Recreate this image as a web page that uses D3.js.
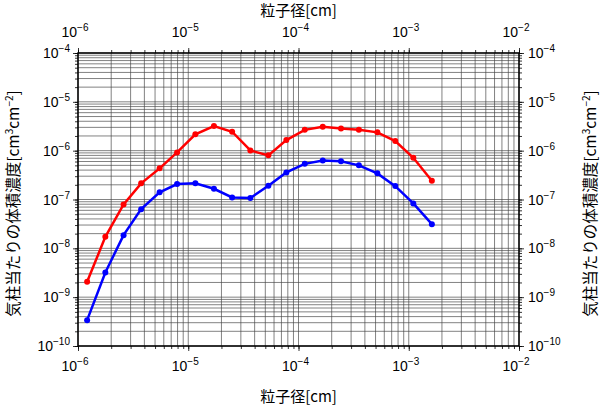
<!DOCTYPE html>
<html>
<head>
<meta charset="utf-8">
<script src="https://cdn.jsdelivr.net/npm/d3@7"></script>
<style>
  body { margin: 0; background: #fff; }
  text { font-family: "Liberation Sans", Arial, sans-serif; }
  .jp { font-family: "Noto Sans CJK JP", sans-serif; }
</style>
</head>
<body>
<div id="chart"></div>
<script>
// particle diameter [cm]
var diameters = [1.21e-6, 1.77e-6, 2.59e-6, 3.74e-6, 5.50e-6, 7.92e-6, 1.16e-5, 1.71e-5, 2.50e-5, 3.66e-5,
                 5.33e-5, 7.76e-5, 1.14e-4, 1.66e-4, 2.43e-4, 3.53e-4, 5.19e-4, 7.55e-4, 1.10e-3, 1.62e-3];
var redValues = [2.06e-9, 1.72e-8, 7.94e-8, 2.14e-7, 4.34e-7, 9.22e-7, 2.16e-6, 3.19e-6, 2.44e-6, 1.01e-6,
                 8.01e-7, 1.65e-6, 2.67e-6, 3.09e-6, 2.86e-6, 2.68e-6, 2.37e-6, 1.57e-6, 7.16e-7, 2.42e-7];
var blueValues = [3.38e-10, 3.21e-9, 1.86e-8, 6.35e-8, 1.40e-7, 2.07e-7, 2.14e-7, 1.66e-7, 1.10e-7, 1.07e-7,
                  1.91e-7, 3.59e-7, 5.37e-7, 6.32e-7, 6.04e-7, 5.00e-7, 3.43e-7, 1.88e-7, 8.32e-8, 3.13e-8];
var xDecades = [-6, -5, -4, -3, -2];
var yDecades = [-10, -9, -8, -7, -6, -5, -4];
var xTitle = "粒子径[cm]";

var margin = { top: 53, right: 89, bottom: 59, left: 78 },
    width = 608 - margin.left - margin.right,
    height = 405 - margin.top - margin.bottom;

var svg = d3.select("#chart")
    .append("svg")
    .attr("width", 608)
    .attr("height", 405);
var g = svg.append("g")
    .attr("transform", "translate(" + margin.left + "," + margin.top + ")");

var x = d3.scaleLog().domain([1e-6, 1e-2]).range([0, width]);
var y = d3.scaleLog().domain([1e-10, 1e-4]).range([height, 0]);

// 1..9 in each decade
function allTicks(decades) {
    var t = [];
    for (var i = 0; i < decades.length; i++) {
        for (var m = 1; m <= 9; m++) {
            if (i == decades.length - 1 && m > 1) break;
            t.push(m * Math.pow(10, decades[i]));
        }
    }
    return t;
}
var xMajor = xDecades.map(function (d) { return Math.pow(10, d); });
var yMajor = yDecades.map(function (d) { return Math.pow(10, d); });
var xAll = allTicks(xDecades);
var yAll = allTicks(yDecades);

// grid
g.append("g").selectAll("line")
    .data(xAll).enter().append("line")
    .attr("x1", function (d) { return x(d); }).attr("x2", function (d) { return x(d); })
    .attr("y1", 0).attr("y2", height)
    .attr("stroke", "#444").attr("stroke-width", 0.9).attr("stroke-opacity", 0.75);
g.append("g").selectAll("line")
    .data(yAll).enter().append("line")
    .attr("y1", function (d) { return y(d); }).attr("y2", function (d) { return y(d); })
    .attr("x1", 0).attr("x2", width)
    .attr("stroke", "#444").attr("stroke-width", 0.9).attr("stroke-opacity", 0.75);

// ticks, minor then major, on all four sides
function ticks(axisFn, scale, vals, size, tr) {
    var a = g.append("g").attr("transform", tr)
        .call(axisFn(scale).tickValues(vals).tickSize(size).tickFormat(""));
    a.select(".domain").remove();
    a.selectAll("line").attr("stroke", "#000").attr("stroke-width", 0.8);
}
ticks(d3.axisBottom, x, xAll, 3, "translate(0," + height + ")");
ticks(d3.axisBottom, x, xMajor, 5, "translate(0," + height + ")");
ticks(d3.axisTop, x, xAll, 3, "translate(0,0)");
ticks(d3.axisTop, x, xMajor, 5, "translate(0,0)");
ticks(d3.axisLeft, y, yAll, 3, "translate(0,0)");
ticks(d3.axisLeft, y, yMajor, 5, "translate(0,0)");
ticks(d3.axisRight, y, yAll, 3, "translate(" + width + ",0)");
ticks(d3.axisRight, y, yMajor, 5, "translate(" + width + ",0)");

g.append("rect")
    .attr("width", width).attr("height", height)
    .attr("fill", "none").attr("stroke", "#000").attr("stroke-width", 1.5);

// power-of-ten labels
function powLabel(sel, exp) {
    sel.append("tspan").text("10");
    sel.append("tspan").attr("dy", -6).attr("font-size", "10px").text("\u2212" + Math.abs(exp));
}
xDecades.forEach(function (e) {
    var xp = x(Math.pow(10, e));
    powLabel(g.append("text").attr("x", xp - 3).attr("y", height + 25)
        .attr("text-anchor", "middle").style("font-size", "14px"), e);
    powLabel(g.append("text").attr("x", xp - 3).attr("y", -16)
        .attr("text-anchor", "middle").style("font-size", "14px"), e);
});
yDecades.forEach(function (e) {
    var yp = y(Math.pow(10, e));
    powLabel(g.append("text").attr("x", -8).attr("y", yp + 5)
        .attr("text-anchor", "end").style("font-size", "14px"), e);
    powLabel(g.append("text").attr("x", width + 9).attr("y", yp + 5)
        .attr("text-anchor", "start").style("font-size", "14px"), e);
});

// axis titles
svg.append("text").attr("class", "jp").attr("x", margin.left + width / 2).attr("y", 402)
    .attr("text-anchor", "middle").style("font-size", "15px").text(xTitle);
svg.append("text").attr("class", "jp").attr("x", margin.left + width / 2).attr("y", 16)
    .attr("text-anchor", "middle").style("font-size", "15px").text(xTitle);

function yTitle(xp) {
    var t = svg.append("text").attr("class", "jp")
        .attr("transform", "translate(" + xp + "," + (margin.top + height / 2 + 4) + ") rotate(-90)")
        .attr("text-anchor", "middle").style("font-size", "15.5px");
    t.append("tspan").text("気柱当たりの体積濃度[cm");
    t.append("tspan").attr("dy", -6).attr("font-size", "10px").text("3");
    t.append("tspan").attr("dy", 6).text("cm");
    t.append("tspan").attr("dy", -6).attr("font-size", "10px").text("\u22122");
    t.append("tspan").attr("dy", 6).text("]");
}
yTitle(19);
yTitle(596);

// series
var series = [
    { values: blueValues, color: "#0000ff" },
    { values: redValues, color: "#ff0000" }
];
var line = d3.line()
    .x(function (d) { return x(d[0]); })
    .y(function (d) { return y(d[1]); });
series.forEach(function (s) {
    var pts = diameters.map(function (d, i) { return [d, s.values[i]]; });
    g.append("path").datum(pts)
        .attr("d", line).attr("fill", "none")
        .attr("stroke", s.color).attr("stroke-width", 2.5);
    g.append("g").selectAll("circle")
        .data(pts).enter().append("circle")
        .attr("cx", function (d) { return x(d[0]); })
        .attr("cy", function (d) { return y(d[1]); })
        .attr("r", 3).attr("fill", s.color);
});
</script>
</body>
</html>
